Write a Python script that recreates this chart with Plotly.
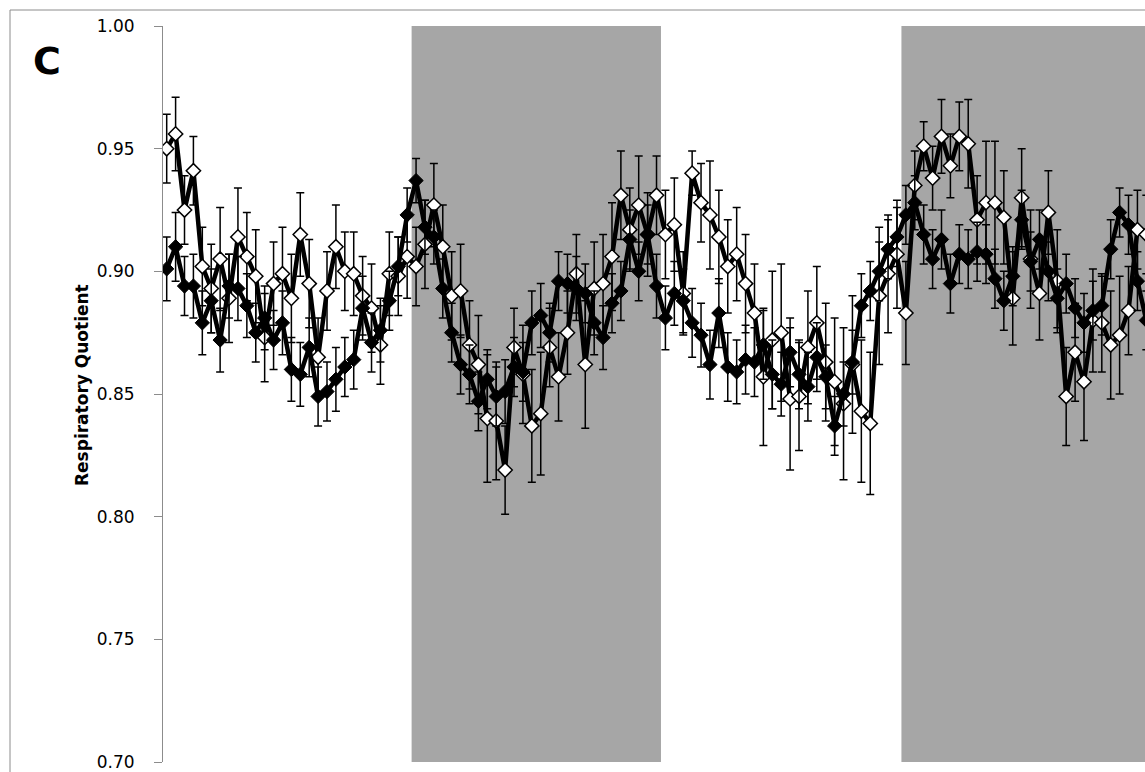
import plotly.graph_objects as go

# Sample index along the time axis (one point per interval)
idx = list(range(111))

# Respiratory quotient, filled-diamond series
rq_filled = [
    0.901, 0.910, 0.894, 0.894, 0.879, 0.888, 0.872, 0.894, 0.893, 0.886,
    0.875, 0.881, 0.872, 0.879, 0.860, 0.858, 0.869, 0.849, 0.851, 0.856,
    0.861, 0.864, 0.885, 0.871, 0.876, 0.888, 0.902, 0.923, 0.937, 0.918,
    0.914, 0.893, 0.875, 0.862, 0.858, 0.847, 0.856, 0.849, 0.851, 0.861,
    0.859, 0.879, 0.882, 0.875, 0.896, 0.895, 0.893, 0.891, 0.879, 0.873,
    0.887, 0.892, 0.913, 0.900, 0.915, 0.894, 0.881, 0.891, 0.888, 0.879,
    0.874, 0.862, 0.883, 0.861, 0.859, 0.864, 0.863, 0.870, 0.858, 0.854,
    0.867, 0.858, 0.853, 0.865, 0.857, 0.837, 0.850, 0.863, 0.886, 0.892,
    0.900, 0.909, 0.914, 0.923, 0.928, 0.915, 0.905, 0.913, 0.895, 0.907,
    0.905, 0.908, 0.907, 0.897, 0.888, 0.898, 0.921, 0.904, 0.913, 0.900,
    0.889, 0.895, 0.885, 0.879, 0.884, 0.886, 0.909, 0.924, 0.919, 0.896,
    0.880,
]
err_filled = [
    0.013, 0.014, 0.012, 0.013, 0.013, 0.013, 0.013, 0.013, 0.013, 0.013,
    0.012, 0.013, 0.012, 0.013, 0.013, 0.013, 0.012, 0.012, 0.012, 0.013,
    0.012, 0.012, 0.013, 0.012, 0.013, 0.012, 0.012, 0.011, 0.009, 0.011,
    0.011, 0.012, 0.012, 0.012, 0.012, 0.012, 0.012, 0.012, 0.013, 0.012,
    0.012, 0.013, 0.013, 0.012, 0.012, 0.012, 0.013, 0.012, 0.013, 0.013,
    0.012, 0.012, 0.012, 0.012, 0.012, 0.013, 0.013, 0.013, 0.013, 0.014,
    0.013, 0.014, 0.014, 0.014, 0.013, 0.014, 0.014, 0.014, 0.014, 0.013,
    0.014, 0.014, 0.014, 0.014, 0.013, 0.012, 0.013, 0.013, 0.013, 0.012,
    0.012, 0.012, 0.012, 0.012, 0.011, 0.012, 0.012, 0.012, 0.012, 0.012,
    0.012, 0.012, 0.012, 0.012, 0.012, 0.012, 0.012, 0.012, 0.012, 0.012,
    0.012, 0.012, 0.012, 0.012, 0.012, 0.012, 0.012, 0.010, 0.012, 0.012,
    0.012,
]

# Respiratory quotient, open-diamond series
rq_open = [
    0.950, 0.956, 0.925, 0.941, 0.902, 0.893, 0.905, 0.889, 0.914, 0.906,
    0.898, 0.873, 0.895, 0.899, 0.889, 0.915, 0.895, 0.865, 0.892, 0.910,
    0.900, 0.899, 0.890, 0.885, 0.870, 0.899, 0.898, 0.906, 0.902, 0.911,
    0.927, 0.910, 0.890, 0.892, 0.870, 0.862, 0.840, 0.839, 0.819, 0.869,
    0.858, 0.837, 0.842, 0.869, 0.857, 0.875, 0.899, 0.862, 0.893, 0.895,
    0.906, 0.931, 0.917, 0.927, 0.915, 0.931, 0.915, 0.919, 0.891, 0.940,
    0.928, 0.923, 0.914, 0.902, 0.907, 0.895, 0.883, 0.857, 0.872, 0.875,
    0.848, 0.849, 0.869, 0.879, 0.863, 0.855, 0.846, 0.862, 0.843, 0.838,
    0.890, 0.899, 0.907, 0.883, 0.935, 0.951, 0.938, 0.955, 0.943, 0.955,
    0.952, 0.921, 0.928, 0.928, 0.922, 0.889, 0.930, 0.905, 0.891, 0.924,
    0.896, 0.849, 0.867, 0.855, 0.880, 0.879, 0.870, 0.874, 0.884, 0.917,
    0.915,
]
err_open = [
    0.014, 0.015, 0.014, 0.014, 0.016, 0.018, 0.021, 0.018, 0.020, 0.018,
    0.019, 0.018, 0.017, 0.019, 0.018, 0.017, 0.018, 0.016, 0.016, 0.017,
    0.016, 0.017, 0.016, 0.018, 0.016, 0.017, 0.016, 0.017, 0.016, 0.018,
    0.017, 0.017, 0.018, 0.019, 0.018, 0.020, 0.026, 0.024, 0.018, 0.016,
    0.020, 0.023, 0.025, 0.016, 0.018, 0.017, 0.016, 0.026, 0.019, 0.020,
    0.022, 0.018, 0.017, 0.020, 0.017, 0.016, 0.018, 0.019, 0.017, 0.009,
    0.016, 0.022, 0.019, 0.019, 0.019, 0.020, 0.020, 0.028, 0.028, 0.028,
    0.029, 0.022, 0.023, 0.023, 0.024, 0.026, 0.031, 0.028, 0.029, 0.029,
    0.028, 0.024, 0.022, 0.021, 0.014, 0.010, 0.013, 0.015, 0.013, 0.014,
    0.018, 0.018, 0.025, 0.025, 0.019, 0.019, 0.020, 0.020, 0.019, 0.017,
    0.021, 0.020, 0.020, 0.024, 0.021, 0.020, 0.022, 0.024, 0.018, 0.016,
    0.016,
]

# Dark-phase intervals on the index axis
dark_phases = [(27.5, 55.5), (82.5, 120.0)]

y_ticks = [0.70, 0.75, 0.80, 0.85, 0.90, 0.95, 1.00]

FONT = "DejaVu Sans"

fig = go.Figure()

fig.add_trace(go.Scatter(
    x=idx, y=rq_open, mode="lines+markers",
    line=dict(color="black", width=4.5),
    marker=dict(symbol="diamond", size=11, color="white",
                line=dict(color="black", width=1.5)),
    error_y=dict(type="data", array=err_open, visible=True,
                 color="black", thickness=1.5, width=4),
    showlegend=False,
))

fig.add_trace(go.Scatter(
    x=idx, y=rq_filled, mode="lines+markers",
    line=dict(color="black", width=4.5),
    marker=dict(symbol="diamond", size=11, color="black",
                line=dict(color="black", width=1)),
    error_y=dict(type="data", array=err_filled, visible=True,
                 color="black", thickness=1.5, width=4),
    showlegend=False,
))

for x0, x1 in dark_phases:
    fig.add_shape(type="rect", xref="x", yref="paper",
                  x0=x0, x1=x1, y0=0, y1=1,
                  fillcolor="#a6a6a6", line=dict(width=0), layer="below")

W, H = 1145, 772
ML, MR, MT, MB = 163, 0, 26, 10
pw, ph = W - ML - MR, H - MT - MB

# outer frame of the chart area
fig.add_shape(type="rect", xref="paper", yref="paper",
              x0=(10 - ML) / pw, x1=1.2,
              y0=-0.2, y1=1 + (MT - 10) / ph,
              line=dict(color="#8c8c8c", width=1), fillcolor="rgba(0,0,0,0)")

fig.add_annotation(text="<b>Respiratory Quotient</b>", textangle=-90,
                   xref="paper", yref="paper",
                   x=(82 - ML) / pw, y=0.5 + (394 - 385) / ph,
                   showarrow=False, xanchor="center", yanchor="middle",
                   font=dict(family=FONT, size=17, color="black"))

fig.add_annotation(text="<b>C</b>", xref="paper", yref="paper",
                   x=(47 - ML) / pw, y=1 - (61 - MT) / ph,
                   showarrow=False, xanchor="center", yanchor="middle",
                   font=dict(family=FONT, size=38, color="black"))

fig.update_layout(
    width=W, height=H,
    margin=dict(l=ML, r=MR, t=MT, b=MB, pad=0),
    paper_bgcolor="white", plot_bgcolor="white",
    font=dict(family=FONT, color="black"),
    xaxis=dict(range=[-0.415, 109.85], showline=False, showgrid=False,
               zeroline=False, showticklabels=False, ticks=""),
    yaxis=dict(range=[0.70, 1.00], tickvals=y_ticks, tickformat=".2f",
               showline=True, linecolor="#8c8c8c", linewidth=1,
               ticks="outside", ticklen=8, tickcolor="#8c8c8c", tickwidth=1,
               showgrid=False, zeroline=False,
               tickfont=dict(family=FONT, size=17, color="black"),
               ticklabelstandoff=16),
)

fig.write_html("out.html")
